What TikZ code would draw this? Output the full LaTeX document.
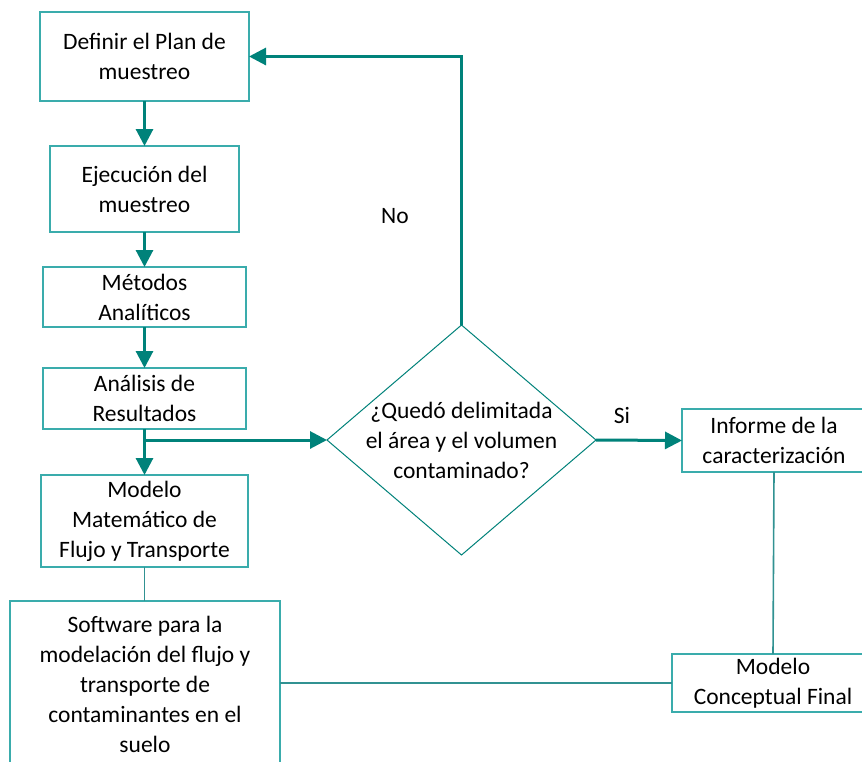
\documentclass[tikz,border=0pt]{standalone}
\usepackage{fontspec}
\setmainfont{Carlito}
\usetikzlibrary{shapes.geometric,arrows.meta}
\definecolor{arrowteal}{RGB}{0,130,122}
\definecolor{boxteal}{RGB}{58,172,172}
\tikzset{
  box/.style={draw=boxteal, line width=1.3pt, rectangle, inner sep=0pt, outer sep=0pt, align=center,
    font=\fontsize{23.5}{30}\selectfont},
  lbl/.style={inner sep=0pt, align=center, font=\fontsize{23.5}{30}\selectfont},
  thickarrow/.style={draw=arrowteal, line width=3pt, -{Triangle[length=17pt,width=17pt]}},
  thinline/.style={draw=boxteal!85!black, line width=1.6pt},
}
\begin{document}
\begin{tikzpicture}[x=1pt,y=-1pt]
\clip (0,0) rectangle (862,761);
\fill[white] (0,0) rectangle (862,761);
% boxes
\node[box, minimum width=209pt, minimum height=89pt] (b1) at (144.5,56.5) {Definir el Plan de\\muestreo};
\node[box, minimum width=189pt, minimum height=86pt] (b2) at (144.5,189) {Ejecución del\\muestreo};
\node[box, minimum width=203pt, minimum height=60pt] (b3) at (144.5,297) {Métodos\\Analíticos};
\node[box, minimum width=203pt, minimum height=61pt] (b4) at (144.5,398.5) {Análisis de\\Resultados};
\node[box, minimum width=207pt, minimum height=92pt] (b5) at (144.5,521) {Modelo\\Matemático de\\Flujo y Transporte};
\node[box, minimum width=270pt, minimum height=166pt] (b6) at (145,684) {Software para la\\modelación del flujo y\\transporte de\\contaminantes en el\\suelo};
\node[box, minimum width=184pt, minimum height=63pt] (b7) at (774,440.5) {Informe de la\\caracterización};
\node[box, minimum width=202pt, minimum height=58pt] (b8) at (773,683) {Modelo\\Conceptual Final};
% decision
\node[draw=arrowteal, line width=1pt, diamond, minimum width=269pt, minimum height=230pt, inner sep=0pt, outer sep=0pt, shape aspect=1.17] (dec) at (461.5,440) {};
\node[lbl] (dect) at (461.5,440) {¿Quedó delimitada\\el área y el volumen\\contaminado?};
% connectors
\draw[thickarrow] (b1.south) -- (b2.north);
\draw[thickarrow] (b2.south) -- (b3.north);
\draw[thickarrow] (b3.south) -- (b4.north);
\draw[thickarrow] (b4.south) -- (b5.north);
\coordinate (br) at (144.5,440);
\draw[thickarrow] (br) -- (dec.west);
\draw[thickarrow] (dec.north) |- (b1.east);
\draw[thickarrow] (dec.east) -- (b7.west);
\draw[thinline] (b5.south) -- (b5.south |- b6.north);
\draw[thinline] (b7.south) -- (b8.north);
\draw[thinline] (b6.east |- b8.west) -- (b8.west);
% labels
\node[lbl] (no) at (395,216) {No};
\node[lbl] (si) at (622,415) {Si};
\end{tikzpicture}
\end{document}
